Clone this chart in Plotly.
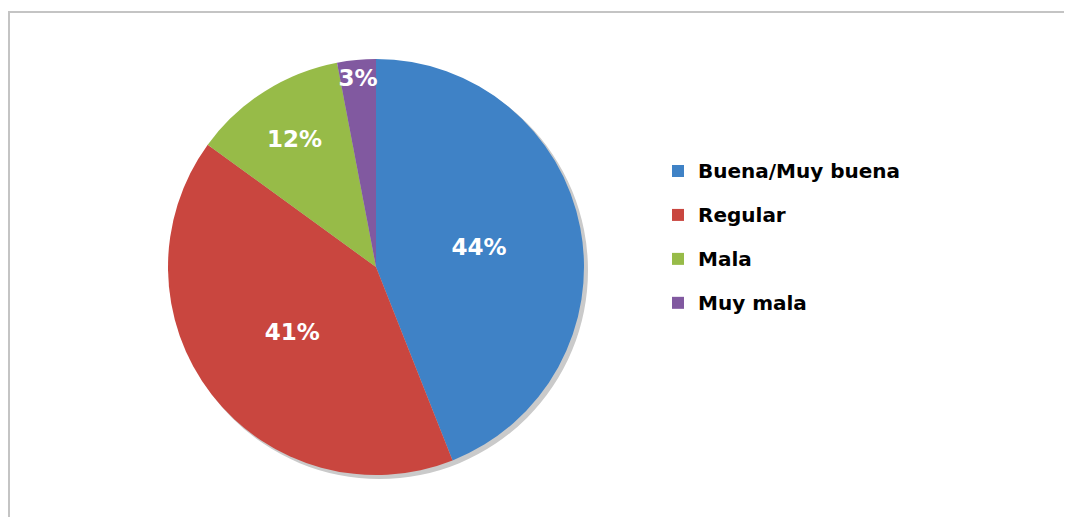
import plotly.graph_objects as go

labels = ["Buena/Muy buena", "Regular", "Mala", "Muy mala"]
values = [44, 41, 12, 3]
colors = ["#3f82c6", "#c9463f", "#97bb48", "#8159a0"]

W, H = 1072, 517
OFF = 8  # page body margin
cx, cy, r = 376 - OFF, 267 - OFF, 208  # pie centre / radius in pixels

def px_x(x):
    return x / W

def px_y(y):
    return 1 - y / H

legend_labels = ['<span style="font-size:20px;baseline-shift:5px">%s</span>' % l for l in labels]

fig = go.Figure()
fig.add_trace(go.Pie(
    labels=legend_labels,
    values=values,
    sort=False,
    direction="clockwise",
    rotation=0,
    marker=dict(colors=colors, line=dict(width=0)),
    textinfo="percent",
    textposition="inside",
    insidetextorientation="horizontal",
    textfont=dict(family="DejaVu Sans", size=23, color="white", weight="bold"),
    domain=dict(x=[px_x(cx - r), px_x(cx + r)], y=[px_y(cy + r), px_y(cy - r)]),
    hoverinfo="label+percent",
))

# drop shadow behind the pie
fig.add_shape(type="circle", xref="paper", yref="paper", layer="below",
              x0=px_x(cx - r + 3), x1=px_x(cx + r + 4),
              y0=px_y(cy + r + 4), y1=px_y(cy - r + 3),
              fillcolor="#cacaca", line=dict(width=0))

# frame of the chart area
fig.add_shape(type="rect", xref="paper", yref="paper", layer="below",
              x0=px_x(9 - OFF), x1=1.05, y0=-0.05, y1=px_y(12 - OFF),
              fillcolor="rgba(0,0,0,0)", line=dict(color="#c4c4c4", width=2))

fig.update_layout(
    width=W, height=H,
    margin=dict(l=0, r=0, t=0, b=0),
    paper_bgcolor="white",
    plot_bgcolor="white",
    showlegend=True,
    uniformtext=dict(mode="show", minsize=23),
    legend=dict(
        x=px_x(650), y=px_y(136), xanchor="left", yanchor="top",
        font=dict(family="DejaVu Sans", size=31.5, color="black", weight="bold"),
        bgcolor="rgba(0,0,0,0)",
    ),
)

fig.write_html("out.html")
